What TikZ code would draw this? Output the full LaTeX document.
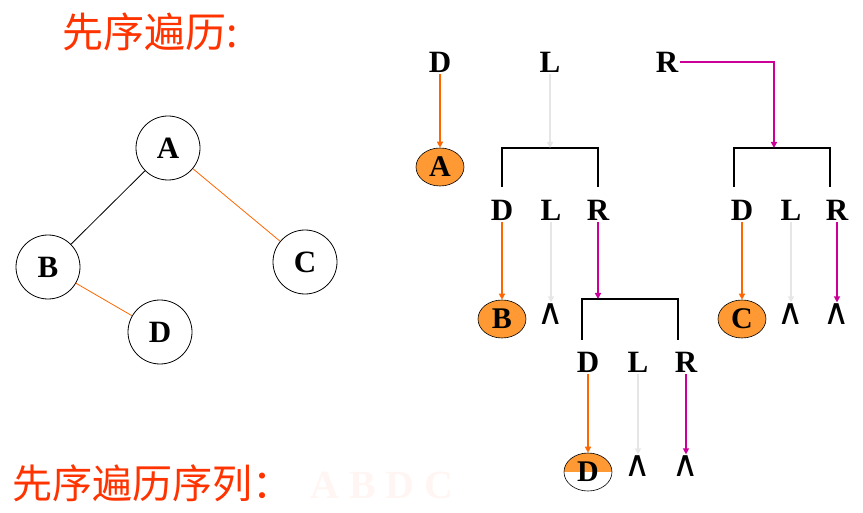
\documentclass[tikz,border=0pt]{standalone}
\usepackage{fontspec}
\setmainfont{Liberation Serif}
\newfontfamily\cjk{Noto Sans CJK SC}
\newfontfamily\symf{DejaVu Sans}
\usetikzlibrary{arrows.meta,shapes.geometric}

\definecolor{titlered}{HTML}{FF3300}
\definecolor{lineorange}{HTML}{FF6600}
\definecolor{nodeorange}{HTML}{FF9933}
\definecolor{lineviolet}{HTML}{CC0099}
\definecolor{linegray}{HTML}{E6E6E6}
\definecolor{ghost}{HTML}{FFF6F3}

\begin{document}
\begin{tikzpicture}[x=1pt, y=-1pt,
    vert/.style={circle, draw, thick, minimum size=64pt, inner sep=0pt, font=\bfseries\fontsize{31}{31}\selectfont},
    lbl/.style={inner sep=2pt, font=\bfseries\fontsize{31}{31}\selectfont},
    visit/.style={ellipse, draw, line width=0.6pt, fill=nodeorange, minimum width=48pt, minimum height=38pt, inner sep=0pt, font=\bfseries\fontsize{30}{30}\selectfont},
    nil/.style={inner sep=1pt, font=\symf\fontsize{36}{36}\selectfont},
    darr/.style={line width=1.4pt, lineorange, -{Triangle[length=6pt,width=6pt]}},
    larr/.style={line width=1.4pt, linegray, -{Triangle[length=6pt,width=6pt]}},
    rarr/.style={line width=1.4pt, lineviolet, -{Triangle[length=6pt,width=6pt]}},
    brk/.style={line width=1.6pt, black}]
    \useasboundingbox (0,0) rectangle (863,513);

    % Titles
    \node[anchor=west, inner sep=0pt, text=titlered, font=\cjk\fontsize{41}{41}\selectfont] (title) at (62,32) {先序遍历:};
    \node[anchor=west, inner sep=0pt, text=titlered, font=\cjk\fontsize{40}{40}\selectfont] (seq) at (12,483) {先序遍历序列：};
    \node[anchor=west, inner sep=0pt, text=ghost, font=\bfseries\fontsize{40}{40}\selectfont] (seqval) at (310,485) {A B D C};

    % Define vertices
    \node[vert] (A) at (168,148) {A};
    \node[vert] (B) at (48,267) {B};
    \node[vert] (C) at (305,262) {C};
    \node[vert] (D) at (160,332) {D};

    % Draw edges
    \draw[thick] (A) -- (B);
    \draw[thick, lineorange] (A) -- (C);
    \draw[thick, lineorange] (B) -- (D);

    % Level 1: root A
    \node[lbl] (D0) at (440,62) {D};
    \node[lbl] (L0) at (550,62) {L};
    \node[lbl] (R0) at (667,62) {R};
    \node[visit] (vA) at (440,167) {A};
    \draw[brk] (502,187) |- (598,148) -- (598,187);
    \draw[brk] (734,187) |- (830,148) -- (830,187);
    \coordinate (T1) at (550,148);
    \coordinate (T2) at (774,148);
    \draw[darr] (D0) -- (vA);
    \draw[larr] (L0) -- (T1);
    \draw[rarr] (R0.east) -| (T2);

    % Level 2: B and C
    \node[lbl] (D1) at (502,210) {D};
    \node[lbl] (L1) at (551,210) {L};
    \node[lbl] (R1) at (598,210) {R};
    \node[lbl] (D2) at (742,210) {D};
    \node[lbl] (L2) at (791,210) {L};
    \node[lbl] (R2) at (837,210) {R};
    \node[visit] (vB) at (502,319) {B};
    \node[nil] (nB) at (551,314) {∧};
    \draw[brk] (582,340) |- (678,299) -- (678,340);
    \coordinate (T3) at (598,299);
    \node[visit] (vC) at (742,319) {C};
    \node[nil] (nCl) at (791,314) {∧};
    \node[nil] (nCr) at (837,314) {∧};
    \draw[darr] (D1) -- (vB);
    \draw[larr] (L1) -- (nB);
    \draw[rarr] (R1) -- (T3);
    \draw[darr] (D2) -- (vC);
    \draw[larr] (L2) -- (nCl);
    \draw[rarr] (R2) -- (nCr);

    % Level 3: D
    \node[lbl] (D3) at (588,362) {D};
    \node[lbl] (L3) at (638,362) {L};
    \node[lbl] (R3) at (686,362) {R};
    \node[visit, fill=white, path picture={\fill[nodeorange] (path picture bounding box.north west) rectangle (path picture bounding box.east);}] (vD) at (588,472) {D};
    \node[nil] (nDl) at (638,466) {∧};
    \node[nil] (nDr) at (686,466) {∧};
    \draw[darr] (D3) -- (vD);
    \draw[larr] (L3) -- (nDl);
    \draw[rarr] (R3) -- (nDr);
\end{tikzpicture}
\end{document}
